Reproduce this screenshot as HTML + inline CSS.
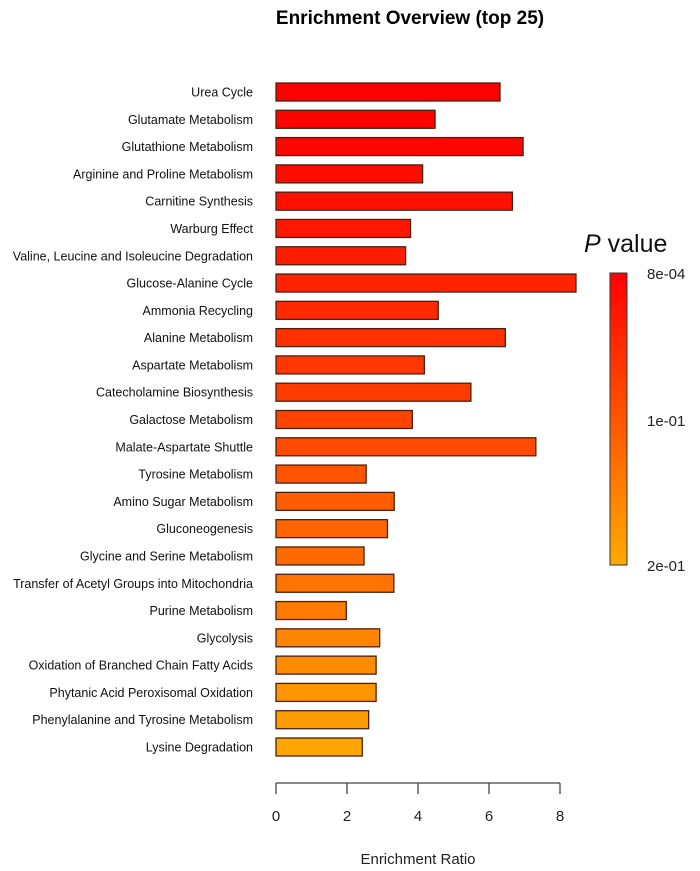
<!DOCTYPE html>
<html><head><meta charset="utf-8"><style>
body{margin:0;background:#fff;}
svg{display:block;font-family:"Liberation Sans",sans-serif;}
</style></head><body>
<svg id="chart" width="700" height="871">
<defs><linearGradient id="lg" x1="0" y1="0" x2="0" y2="1">
<stop offset="0" stop-color="#ff0000"/><stop offset="0.5" stop-color="#ff5500"/><stop offset="1" stop-color="#ffaa00"/></linearGradient></defs>
<text x="410" y="24" text-anchor="middle" font-size="19" font-weight="bold">Enrichment Overview (top 25)</text>
<g id="bars"></g>
<g id="axis"></g>
<text x="418" y="864" text-anchor="middle" font-size="15" fill="#222">Enrichment Ratio</text>
<text x="584" y="252" font-size="25" fill="#111"><tspan font-style="italic">P</tspan> value</text>
<rect x="610" y="273" width="17" height="292" fill="url(#lg)" stroke="#333" stroke-width="1"/>
<text x="647" y="279" font-size="15" fill="#222">8e-04</text>
<text x="647" y="426" font-size="15" fill="#222">1e-01</text>
<text x="647" y="571" font-size="15" fill="#222">2e-01</text>
</svg>
<script>
const categories=["Urea Cycle","Glutamate Metabolism","Glutathione Metabolism","Arginine and Proline Metabolism","Carnitine Synthesis","Warburg Effect","Valine, Leucine and Isoleucine Degradation","Glucose-Alanine Cycle","Ammonia Recycling","Alanine Metabolism","Aspartate Metabolism","Catecholamine Biosynthesis","Galactose Metabolism","Malate-Aspartate Shuttle","Tyrosine Metabolism","Amino Sugar Metabolism","Gluconeogenesis","Glycine and Serine Metabolism","Transfer of Acetyl Groups into Mitochondria","Purine Metabolism","Glycolysis","Oxidation of Branched Chain Fatty Acids","Phytanic Acid Peroxisomal Oxidation","Phenylalanine and Tyrosine Metabolism","Lysine Degradation"];
const ratios=[6.31,4.48,6.96,4.13,6.66,3.79,3.65,8.45,4.57,6.46,4.18,5.49,3.84,7.32,2.54,3.33,3.14,2.48,3.32,1.98,2.92,2.82,2.82,2.61,2.43];
const pvalues=[0.001,0.004,0.008,0.015,0.02,0.028,0.035,0.042,0.05,0.058,0.065,0.072,0.08,0.088,0.1,0.11,0.118,0.125,0.135,0.145,0.155,0.165,0.175,0.185,0.195];
const ticks=[0,2,4,6,8];
const NS="http://www.w3.org/2000/svg";
const x0=276,ux=35.5,y0=92,dy=(747-92)/24,bh=18;
const xs=v=>x0+v*ux, ys=i=>y0+i*dy;
function col(p){const t=Math.max(0,Math.min(1,(p-0.0008)/(0.2-0.0008)));let g;if(t<0.5)g=170*t;else g=85+170*(t-0.5);return `rgb(255,${Math.round(g)},0)`;}
const gb=document.getElementById('bars');
categories.forEach((c,i)=>{
 const r=document.createElementNS(NS,'rect');
 r.setAttribute('x',x0);r.setAttribute('y',ys(i)-bh/2);r.setAttribute('width',xs(ratios[i])-x0);r.setAttribute('height',bh);
 r.setAttribute('fill',col(pvalues[i]));r.setAttribute('stroke','#4a2010');r.setAttribute('stroke-width','1.3');
 
 
 gb.appendChild(r);
 const t=document.createElementNS(NS,'text');
 t.setAttribute('x',253);t.setAttribute('y',ys(i)+4.5);t.setAttribute('text-anchor','end');t.setAttribute('font-size','12.5');t.setAttribute('fill','#111');
 t.textContent=c;
 
 
 gb.appendChild(t);
});
const ga=document.getElementById('axis');
const ln=document.createElementNS(NS,'line');
ln.setAttribute('x1',xs(ticks[0]));ln.setAttribute('x2',xs(ticks[ticks.length-1]));ln.setAttribute('y1',783);ln.setAttribute('y2',783);ln.setAttribute('stroke','#444');ln.setAttribute('stroke-width','1.3');


ga.appendChild(ln);
ticks.forEach(v=>{
 const l=document.createElementNS(NS,'line');
 l.setAttribute('x1',xs(v));l.setAttribute('x2',xs(v));l.setAttribute('y1',783);l.setAttribute('y2',794);l.setAttribute('stroke','#444');l.setAttribute('stroke-width','1.3');
 
 
 ga.appendChild(l);
 const t=document.createElementNS(NS,'text');
 t.setAttribute('x',xs(v));t.setAttribute('y',821);t.setAttribute('text-anchor','middle');t.setAttribute('font-size','15');t.setAttribute('fill','#222');
 t.textContent=v;
 
 
 ga.appendChild(t);
});
</script>
</body></html>
